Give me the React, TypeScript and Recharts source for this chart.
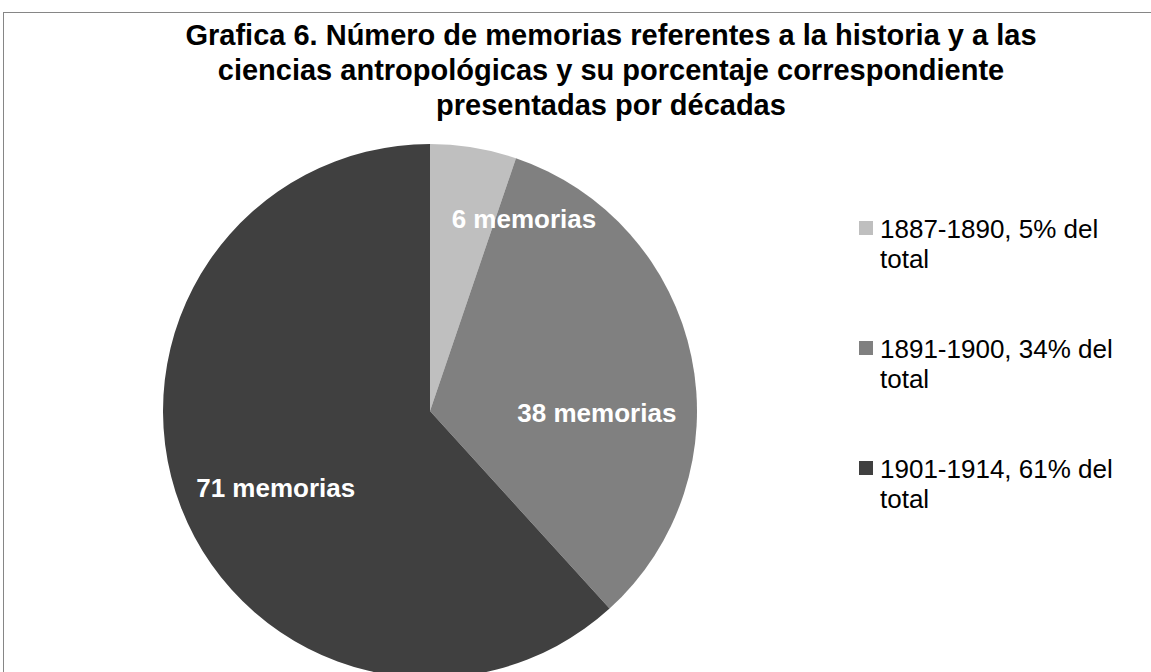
import { PieChart, Pie, Cell, Legend } from "recharts";

const FONT = '"Liberation Sans", Arial, sans-serif';

// decades, share of total and number of memorias
const periods = ["1887-1890", "1891-1900", "1901-1914"];
const shares = [5, 34, 61];
const memorias = [6, 38, 71];
const shades = ["#bfbfbf", "#808080", "#404040"];

const titleLines = [
  "Grafica 6. Número de memorias referentes a la historia y a las",
  "ciencias antropológicas y su porcentaje correspondiente",
  "presentadas por décadas",
];

const data = periods.map((p, i) => ({
  name: `${p}, ${shares[i]}% del total`,
  value: memorias[i],
}));

// Excel "best fit" nudges the labels off the slice middles
const labelNudge = [
  { angle: -16.7, rf: 0.8 },
  { angle: -12.4, rf: 0.625 },
  { angle: 5.4, rf: 0.646 },
];

const RAD = Math.PI / 180;

const renderLabel = (props: any) => {
  const { cx, cy, midAngle, outerRadius, index, value } = props;
  const n = labelNudge[index];
  const a = (midAngle + n.angle) * RAD;
  const r = outerRadius * n.rf;
  const x = cx + r * Math.cos(a);
  const y = cy - r * Math.sin(a);
  return (
    <text
      x={x}
      y={y + 9}
      textAnchor="middle"
      fill="#fff"
      fontFamily={FONT}
      fontWeight="bold"
      fontSize={26}
    >
      {`${value} memorias`}
    </text>
  );
};

const renderLegend = (props: any) => (
  <div style={{ fontFamily: FONT, fontSize: 26, lineHeight: "30px", color: "#000" }}>
    {(props.payload || []).map((e: any, i: number) => (
      <div key={i} style={{ display: "flex", alignItems: "flex-start", marginBottom: 60 }}>
        <span
          style={{
            width: 14,
            height: 14,
            background: shades[i],
            marginTop: 7,
            marginRight: 7,
            flex: "none",
          }}
        />
        <span style={{ width: 245 }}>{e.value}</span>
      </div>
    ))}
  </div>
);

export default function App() {
  return (
    <div
      style={{
        position: "absolute",
        left: 0,
        top: 0,
        width: 1151,
        height: 672,
        overflow: "hidden",
        background: "#fff",
      }}
    >
      <div
        style={{
          position: "absolute",
          left: 3,
          top: 12,
          width: 1170,
          height: 700,
          border: "1px solid #868686",
          boxSizing: "border-box",
        }}
      />
      <div
        style={{
          position: "absolute",
          left: 111,
          top: 18,
          width: 1000,
          textAlign: "center",
          fontFamily: FONT,
          fontWeight: "bold",
          fontSize: 29,
          lineHeight: "35px",
          color: "#000",
        }}
      >
        {titleLines.map((t, i) => (
          <div key={i}>{t}</div>
        ))}
      </div>
      <PieChart width={1151} height={672} style={{ position: "absolute", left: 0, top: 0 }}>
        <Pie
          data={data}
          dataKey="value"
          nameKey="name"
          cx={425}
          cy={406}
          outerRadius={267}
          startAngle={90}
          endAngle={-270}
          stroke="none"
          labelLine={false}
          label={renderLabel}
          isAnimationActive={false}
        >
          {data.map((_, i) => (
            <Cell key={i} fill={shades[i]} />
          ))}
        </Pie>
        <Legend
          layout="vertical"
          content={renderLegend}
          wrapperStyle={{ position: "absolute", left: 859, top: 214, width: 290 }}
        />
      </PieChart>
    </div>
  );
}
